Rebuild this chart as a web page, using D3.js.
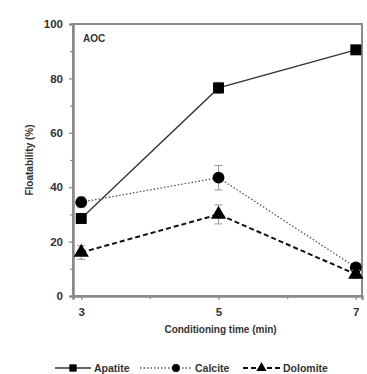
<!DOCTYPE html>
<html>
<head>
<meta charset="utf-8">
<script src="https://cdn.jsdelivr.net/npm/d3@7"></script>
<style>
  body { margin: 0; background: #fff; }
  text { font-family: "Liberation Sans", Arial, sans-serif; font-weight: bold; }
</style>
</head>
<body>
<div id="chart"></div>
<script>
// dados
const tempos = [3, 5, 7];
const apatite = [28.5, 76.5, 90.5];
const calcite = [34.5, 43.5, 10.5];
const dolomite = [16, 30, 8];
const errApatite = [1.5, 2, 1.5];
const errCalcite = [2, 4.5, 1.5];
const errDolomite = [2.5, 3.5, 1.5];
const yTicks = [0, 20, 40, 60, 80, 100];
const xTicks = [3, 5, 7];

const width = 367;
const height = 374;
const marginTop = 24;
const marginRight = 5;
const marginBottom = 78;
const marginLeft = 73;

const svg = d3.select("#chart").append("svg")
    .attr("width", width)
    .attr("height", height);

const x = d3.scaleLinear().domain([2.88, 7.09]).range([marginLeft, width - marginRight]);
const y = d3.scaleLinear().domain([0, 100]).range([height - marginBottom, marginTop]);

const axisColor = "#8a8a8a";

// moldura (topo e direita)
svg.append("rect")
    .attr("x", marginLeft).attr("y", marginTop)
    .attr("width", width - marginRight - marginLeft)
    .attr("height", height - marginBottom - marginTop)
    .attr("fill", "none")
    .attr("stroke", axisColor)
    .attr("stroke-width", 2);

// eixo Y
const gy = svg.append("g")
    .attr("transform", `translate(${marginLeft},0)`)
    .call(d3.axisLeft(y).tickValues(yTicks).tickSize(4).tickPadding(6));
gy.append("g")
    .call(d3.axisLeft(y).tickValues(d3.range(10, 100, 20)).tickSize(3).tickFormat(""));

// eixo X
const gx = svg.append("g")
    .attr("transform", `translate(0,${height - marginBottom})`)
    .call(d3.axisBottom(x).tickValues(xTicks).tickFormat(d3.format("d")).tickSize(4).tickPadding(8));
gx.append("g")
    .call(d3.axisBottom(x).tickValues([4, 6]).tickSize(3).tickFormat(""));

[gx, gy].forEach(g => {
    g.selectAll(".domain").attr("stroke", axisColor).attr("stroke-width", 2);
    g.selectAll("line").attr("stroke", axisColor).attr("stroke-width", 1.2);
    g.selectAll("text").attr("font-size", 11.5).attr("fill", "#333")
        .style("font-family", "'Liberation Sans', Arial, sans-serif").style("font-weight", "bold");
});

// rótulos
svg.append("text")
    .attr("x", (x(3) + x(7)) / 2 + 2)
    .attr("y", 333)
    .attr("text-anchor", "middle")
    .attr("font-size", 10)
    .attr("fill", "#333")
    .text("Conditioning time (min)");

svg.append("text")
    .attr("transform", `translate(33,${(y(0) + y(100)) / 2}) rotate(-90)`)
    .attr("text-anchor", "middle")
    .attr("font-size", 10)
    .attr("fill", "#333")
    .text("Floatability (%)");

svg.append("text")
    .attr("x", 83).attr("y", 42)
    .attr("font-size", 10)
    .attr("fill", "#333")
    .text("AOC");

const series = [
    { nome: "Apatite", valores: apatite, erros: errApatite, marca: d3.symbolSquare, tam: 120, cor: "#333", dash: null, sw: 1.3 },
    { nome: "Calcite", valores: calcite, erros: errCalcite, marca: d3.symbolCircle, tam: 110, cor: "#555", dash: "1.5,2", sw: 1.3 },
    { nome: "Dolomite", valores: dolomite, erros: errDolomite, marca: d3.symbolTriangle, tam: 100, cor: "#111", dash: "5,3", sw: 2 }
];

const linha = d3.line()
    .x((d, i) => x(tempos[i]))
    .y(d => y(d));

series.forEach(s => {
    // barras de erro
    const g = svg.append("g");
    tempos.forEach((t, i) => {
        const cx = x(t);
        const top = y(s.valores[i] + s.erros[i]);
        const bot = y(s.valores[i] - s.erros[i]);
        g.append("line").attr("x1", cx).attr("x2", cx).attr("y1", top).attr("y2", bot)
            .attr("stroke", "#999").attr("stroke-width", 1);
        [top, bot].forEach(yy => g.append("line")
            .attr("x1", cx - 4).attr("x2", cx + 4).attr("y1", yy).attr("y2", yy)
            .attr("stroke", "#999").attr("stroke-width", 1));
    });

    svg.append("path")
        .datum(s.valores)
        .attr("fill", "none")
        .attr("stroke", s.cor)
        .attr("stroke-width", s.sw)
        .attr("stroke-dasharray", s.dash)
        .attr("d", linha);

    svg.selectAll(null)
        .data(s.valores)
        .enter()
        .append("path")
        .attr("transform", (d, i) => `translate(${x(tempos[i])},${y(d)})`)
        .attr("d", d3.symbol().type(s.marca).size(s.tam))
        .attr("fill", "#000");
});

// legenda
const legenda = [
    { x0: 55, x1: 91, tx: 94 },
    { x0: 140, x1: 192, tx: 195 },
    { x0: 243, x1: 280, tx: 283 }
];
const legY = 368;
series.forEach((s, i) => {
    const l = legenda[i];
    svg.append("line")
        .attr("x1", l.x0).attr("x2", l.x1).attr("y1", legY).attr("y2", legY)
        .attr("stroke", s.cor).attr("stroke-width", s.sw)
        .attr("stroke-dasharray", s.dash);
    svg.append("path")
        .attr("transform", `translate(${(l.x0 + l.x1) / 2 + (i === 1 ? 10 : 0)},${legY})`)
        .attr("d", d3.symbol().type(s.marca).size(s.tam * 0.45))
        .attr("fill", "#000");
    svg.append("text")
        .attr("x", l.tx).attr("y", legY + 3.5)
        .attr("font-size", 10.5)
        .attr("fill", "#333")
        .text(s.nome);
});
</script>
</body>
</html>
